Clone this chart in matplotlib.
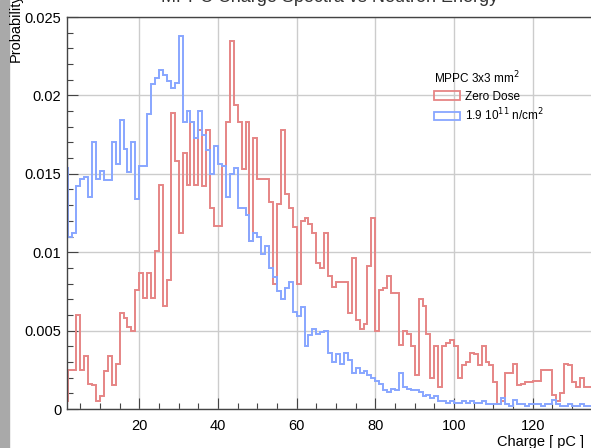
import numpy as np
import matplotlib
matplotlib.use("Agg")
import matplotlib.pyplot as plt
from matplotlib.patches import Patch, Rectangle
from matplotlib.ticker import MultipleLocator, FuncFormatter

plt.rcParams['font.family'] = ['Liberation Sans', 'DejaVu Sans']

# bin edges in pC, 1 pC wide bins
edges = np.arange(1, 141)

# normalised charge distribution, zero dose (red)
zero_dose = [
    0.0005, 0.0025, 0.0025, 0.0060, 0.0025, 0.0034, 0.0016, 0.0015, 0.0005, 0.0008,
    0.0024, 0.0034, 0.0015, 0.0029, 0.0061, 0.0058, 0.0052, 0.0050, 0.0076, 0.0087,
    0.0071, 0.0087, 0.0071, 0.0101, 0.0143, 0.0066, 0.0082, 0.0189, 0.0158, 0.0112,
    0.0163, 0.0143, 0.0183, 0.0143, 0.0178, 0.0142, 0.0178, 0.0128, 0.0117, 0.0117,
    0.0155, 0.0183, 0.0235, 0.0194, 0.0183, 0.0153, 0.0183, 0.0107, 0.0173, 0.0147,
    0.0147, 0.0147, 0.0132, 0.0080, 0.0131, 0.0178, 0.0137, 0.0128, 0.0116, 0.0080,
    0.0120, 0.0122, 0.0118, 0.0112, 0.0093, 0.0090, 0.0112, 0.0085, 0.0078, 0.0081,
    0.0081, 0.0081, 0.0061, 0.0096, 0.0057, 0.0051, 0.0054, 0.0091, 0.0122, 0.0050,
    0.0076, 0.0077, 0.0085, 0.0074, 0.0074, 0.0041, 0.0050, 0.0048, 0.0040, 0.0022,
    0.0070, 0.0066, 0.0048, 0.0020, 0.0040, 0.0014, 0.0040, 0.0042, 0.0044, 0.0040,
    0.0020, 0.0028, 0.0030, 0.0036, 0.0035, 0.0028, 0.0040, 0.0030, 0.0028, 0.0017,
    0.0003, 0.0005, 0.0023, 0.0023, 0.0029, 0.0015, 0.0016, 0.0017, 0.0017, 0.0018,
    0.0018, 0.0025, 0.0025, 0.0025, 0.0009, 0.0005, 0.0010, 0.0029, 0.0028, 0.0017,
    0.0014, 0.0020, 0.0014, 0.0014, 0.0018, 0.0012, 0.0015, 0.0010, 0.0013,
]

# after 1.9e11 n/cm2 (blue)
irradiated = [
    0.0154, 0.0110, 0.0112, 0.0142, 0.0147, 0.0148, 0.0135, 0.0170, 0.0147, 0.0152,
    0.0146, 0.0146, 0.0170, 0.0156, 0.0184, 0.0166, 0.0151, 0.0170, 0.0134, 0.0155,
    0.0155, 0.0188, 0.0207, 0.0211, 0.0216, 0.0213, 0.0209, 0.0205, 0.0208, 0.0238,
    0.0183, 0.0190, 0.0183, 0.0173, 0.0190, 0.0175, 0.0165, 0.0150, 0.0168, 0.0156,
    0.0155, 0.0135, 0.0150, 0.0154, 0.0128, 0.0128, 0.0124, 0.0107, 0.0112, 0.0110,
    0.0099, 0.0104, 0.0090, 0.0084, 0.0075, 0.0070, 0.0077, 0.0081, 0.0062, 0.0059,
    0.0065, 0.0040, 0.0047, 0.0051, 0.0048, 0.0049, 0.0050, 0.0036, 0.0030, 0.0035,
    0.0029, 0.0036, 0.0031, 0.0023, 0.0026, 0.0023, 0.0024, 0.0022, 0.0020, 0.0018,
    0.0016, 0.0012, 0.0011, 0.0013, 0.0012, 0.0023, 0.0014, 0.0013, 0.0012, 0.0012,
    0.0011, 0.0008, 0.0009, 0.0007, 0.0008, 0.0005, 0.0005, 0.0004, 0.0005, 0.0004,
    0.0004, 0.0005, 0.0004, 0.0005, 0.0004, 0.0004, 0.0005, 0.0003, 0.0003, 0.0003,
    0.0003, 0.0007, 0.0003, 0.0002, 0.0006, 0.0003, 0.0003, 0.0002, 0.0003, 0.0003,
    0.0003, 0.0002, 0.0003, 0.0003, 0.0006, 0.0003, 0.0002, 0.0002, 0.0003, 0.0002,
    0.0002, 0.0003, 0.0002, 0.0002, 0.0002, 0.0001, 0.0002, 0.0001, 0.0002,
]

red = '#e68585'
blue = '#88a6ff'

W, H = 591, 448
fig = plt.figure(figsize=(W / 100, H / 100), dpi=100)
fig.patches.append(Rectangle((0, 0), 9 / W, 1, transform=fig.transFigure,
                             color='#a9a9a9', zorder=-5))

ax = fig.add_axes([66.9 / W, 1 - 409 / H, 544.5 / W, 392 / H])
ax.grid(True, color='#cccccc', lw=1.0)
ax.set_axisbelow(True)

ax.stairs(zero_dose, edges, color=red, lw=1.4)
ax.stairs(irradiated, edges, color=blue, lw=1.4)

ax.set_xlim(1.6, 140)
ax.set_ylim(0, 0.025)

ax.xaxis.set_major_locator(MultipleLocator(20))
ax.xaxis.set_minor_locator(MultipleLocator(5))
ax.yaxis.set_major_locator(MultipleLocator(0.005))
ax.yaxis.set_minor_locator(MultipleLocator(0.001))
ax.yaxis.set_major_formatter(FuncFormatter(lambda v, p: '%g' % round(v, 4)))
ax.xaxis.set_major_formatter(FuncFormatter(lambda v, p: '%g' % v))

ax.tick_params(which='major', direction='in', length=8, width=0.8, labelsize=10.5, color='#444444')
ax.tick_params(which='minor', direction='in', length=4, width=0.8, color='#444444')
ax.tick_params(axis='x', pad=7)
ax.tick_params(axis='y', pad=4)
for s in ax.spines.values():
    s.set_color('#444444')
    s.set_linewidth(1.0)

handles = [Patch(facecolor='none', edgecolor=red, lw=1.3, label='Zero Dose'),
           Patch(facecolor='none', edgecolor=blue, lw=1.3, label='1.9 10$^{11}$ n/cm$^{2}$')]
leg = fig.legend(handles=handles, loc='upper left', bbox_to_anchor=(434 / W, 1 - 70 / H),
                 frameon=False, fontsize=8.5, title='MPPC 3x3 mm$^{2}$', title_fontsize=8.5,
                 alignment='left', borderpad=0, handlelength=2.2, handleheight=0.7,
                 handletextpad=0.4, labelspacing=0.35, borderaxespad=0)

fig.text(497 / W, 1 - 446 / H, 'Charge [ pC ]', fontsize=10.5, ha='left', va='baseline')
fig.text(16 / W, 1 - 62 / H, 'Probability', fontsize=10.5, rotation=90, ha='center', va='bottom')
# title sits mostly above the visible canvas, as in the cropped original
fig.text(330 / W, 1 - 1.5 / H, 'MPPC Charge Spectra vs Neutron Energy', fontsize=13,
         ha='center', va='baseline', color='#333333')

fig.savefig('out.png', dpi=100)
